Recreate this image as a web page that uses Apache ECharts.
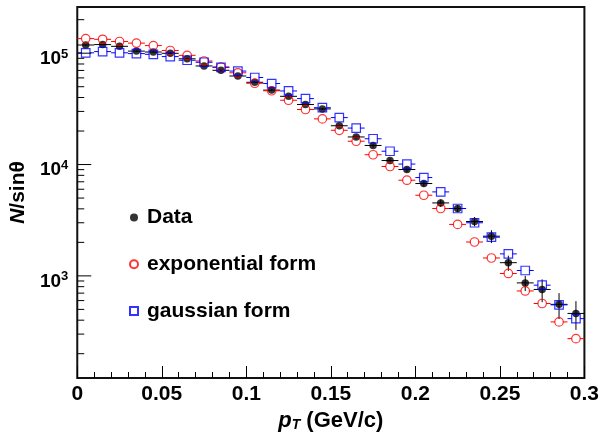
<!DOCTYPE html>
<html>
<head>
<meta charset="utf-8">
<script src="https://cdn.jsdelivr.net/npm/echarts@6/dist/echarts.min.js"></script>
<style>
  html, body { margin: 0; padding: 0; background: #fff; }
  #chart { width: 602px; height: 437px; }
</style>
</head>
<body>
<div id="chart"></div>
<script>
// pT bin centres (GeV/c), bin width 0.01
const binCenters = [0.005, 0.015, 0.025, 0.035, 0.045, 0.055, 0.065, 0.075, 0.085, 0.095,
                    0.105, 0.115, 0.125, 0.135, 0.145, 0.155, 0.165, 0.175, 0.185, 0.195,
                    0.205, 0.215, 0.225, 0.235, 0.245, 0.255, 0.265, 0.275, 0.285, 0.295];
const binHalfWidth = 0.005;

// measured N/sin(theta) with statistical errors
const dataValues = [118500, 119500, 115300, 104400, 102500, 99800, 89100, 76800, 70200, 62400,
                    54800, 46600, 41000, 34600, 31600, 22300, 17690, 14840, 10860, 9020,
                    6750, 4520, 4030, 3080, 2272, 1314, 865, 755, 555, 460];
const dataErrors = [1500, 1500, 1450, 1400, 1350, 1300, 1200, 1100, 1000, 950,
                    900, 850, 800, 700, 650, 560, 540, 520, 490, 450,
                    400, 340, 295, 290, 300, 205, 135, 175, 145, 133];

// model expectations
const expValues = [135200, 133300, 127400, 123200, 117000, 105700, 95700, 85100, 75200, 66700,
                   53700, 46000, 37800, 31200, 25700, 20300, 16190, 12250, 9600, 7230,
                   5300, 4030, 2900, 2015, 1448, 1051, 732, 565, 386, 273];
const gausValues = [100800, 103400, 100800, 99200, 97700, 93200, 86400, 82900, 74700, 69100,
                    60500, 53400, 45800, 39100, 32400, 26400, 21260, 17040, 13170, 10100,
                    7640, 5680, 4030, 3000, 2225, 1576, 1118, 825, 549, 413];

const seriesNames = ['Data', 'exponential form', 'gaussian form'];

// axis ranges
const xMin = 0, xMax = 0.3, xStep = 0.05;
const yMin = 121, yMax = 260000;

// log-axis tick marks: decades are major, 2..9 are minor
const yTickValues = [];
for (let d = 100; d <= 1e6; d *= 10) {
  for (let m = 1; m <= 9; m++) {
    const v = m * d;
    if (v >= yMin && v <= yMax) yTickValues.push(v);
  }
}

const FONT = '"Liberation Sans", Arial, Helvetica, sans-serif';

function isDecade(v) {
  const e = Math.log10(v);
  return Math.abs(e - Math.round(e)) < 1e-6;
}

// horizontal bin-width bars (and vertical error bars), leaving a gap for hollow markers
function barSeries(name, values, errors, color, gap) {
  return {
    type: 'custom',
    name: name + ' bars',
    silent: true,
    z: 2,
    clip: false,
    data: binCenters.map((x, i) => [x, values[i], errors ? errors[i] : 0]),
    renderItem(params, api) {
      const x = api.value(0), y = api.value(1), e = api.value(2);
      const c = api.coord([x, y]);
      const l = api.coord([x - binHalfWidth, y]);
      const r = api.coord([x + binHalfWidth, y]);
      const st = { stroke: color, lineWidth: 1 };
      const children = [
        { type: 'line', shape: { x1: l[0], y1: c[1], x2: c[0] - gap, y2: c[1] }, style: st },
        { type: 'line', shape: { x1: c[0] + gap, y1: c[1], x2: r[0], y2: c[1] }, style: st }
      ];
      if (e > 0) {
        const t = api.coord([x, y + e]);
        const b = api.coord([x, y - e]);
        if (c[1] - gap > t[1]) children.push({ type: 'line', shape: { x1: c[0], y1: t[1], x2: c[0], y2: c[1] - gap }, style: st });
        if (b[1] > c[1] + gap) children.push({ type: 'line', shape: { x1: c[0], y1: c[1] + gap, x2: c[0], y2: b[1] }, style: st });
      }
      return { type: 'group', children };
    }
  };
}

const chart = echarts.init(document.getElementById('chart'), null, { renderer: 'canvas' });

chart.setOption({
  animation: false,
  backgroundColor: '#fff',
  grid: {
    left: 77, right: 14, top: 7, bottom: 59,
    show: true, borderColor: '#111', borderWidth: 2, backgroundColor: 'transparent'
  },
  legend: {
    data: seriesNames,
    orient: 'vertical',
    left: 129, top: 207,
    padding: 0,
    itemGap: 25.7,
    itemWidth: 8, itemHeight: 8,
    selectedMode: false,
    textStyle: {
      fontFamily: FONT, fontWeight: 'bold', fontSize: 21, color: '#000',
      lineHeight: 21, padding: [0, 0, 0, 4]
    }
  },
  xAxis: {
    type: 'value',
    min: xMin, max: xMax, interval: xStep,
    name: '{p|p}{t|T} (GeV/c)',
    nameLocation: 'middle',
    nameGap: 32,
    nameTextStyle: {
      fontFamily: FONT, fontWeight: 'bold', fontSize: 22, color: '#000', lineHeight: 22,
      rich: {
        p: { fontFamily: FONT, fontWeight: 'bold', fontStyle: 'italic', fontSize: 22, color: '#000', lineHeight: 22 },
        t: { fontFamily: FONT, fontWeight: 'bold', fontStyle: 'italic', fontSize: 14, color: '#000', lineHeight: 6, verticalAlign: 'bottom' }
      }
    },
    axisLine: { show: false },
    axisTick: { show: true, inside: true, length: 12, lineStyle: { color: '#000', width: 1 } },
    minorTick: { show: true, splitNumber: 5, length: 6, lineStyle: { color: '#000', width: 1 } },
    splitLine: { show: false },
    minorSplitLine: { show: false },
    axisLabel: {
      margin: 6,
      fontFamily: FONT, fontWeight: 'bold', fontSize: 21, color: '#000',
      formatter: v => String(+v.toFixed(3))
    }
  },
  yAxis: {
    type: 'log',
    logBase: 10,
    min: yMin, max: yMax,
    name: '{i|N}/sinθ',
    nameLocation: 'middle',
    nameGap: 46,
    nameTextStyle: {
      fontFamily: FONT, fontWeight: 'bold', fontSize: 21, color: '#000',
      rich: {
        i: { fontFamily: FONT, fontWeight: 'bold', fontStyle: 'italic', fontSize: 21, color: '#000' }
      }
    },
    axisLine: { show: false },
    axisTick: { show: false },
    splitLine: { show: false },
    axisLabel: {
      margin: 9,
      padding: [11, 0, 0, 0],
      showMinLabel: false, showMaxLabel: false,
      formatter: v => isDecade(v) ? '{b|10}{s|' + Math.round(Math.log10(v)) + '}' : '',
      rich: {
        b: { fontFamily: FONT, fontWeight: 'bold', fontSize: 19, color: '#000', lineHeight: 22 },
        s: { fontFamily: FONT, fontWeight: 'bold', fontSize: 13, color: '#000', lineHeight: 10, verticalAlign: 'top' }
      }
    }
  },
  series: [
    // inner tick marks of the logarithmic axis
    {
      type: 'custom',
      name: 'y ticks',
      silent: true,
      z: 5,
      clip: false,
      data: yTickValues.map(v => [xMin, v]),
      renderItem(params, api) {
        const v = api.value(1);
        const p = api.coord([api.value(0), v]);
        const len = isDecade(v) ? 14 : 7;
        return { type: 'line', shape: { x1: p[0], y1: p[1], x2: p[0] + len, y2: p[1] }, style: { stroke: '#000', lineWidth: 1 } };
      }
    },
    barSeries('Data', dataValues, dataErrors, '#000', 0),
    barSeries('exponential form', expValues, null, '#ff0000', 4),
    barSeries('gaussian form', gausValues, null, '#0000ff', 4),
    {
      type: 'scatter', name: 'Data', z: 3,
      symbol: 'circle', symbolSize: 7.5,
      itemStyle: { color: '#000' },
      data: binCenters.map((x, i) => [x, dataValues[i]])
    },
    {
      type: 'scatter', name: 'exponential form', z: 3,
      symbol: 'circle', symbolSize: 8.5,
      itemStyle: { color: 'rgba(255,255,255,0)', borderColor: '#ff0000', borderWidth: 1.2 },
      data: binCenters.map((x, i) => [x, expValues[i]])
    },
    {
      type: 'scatter', name: 'gaussian form', z: 3,
      symbol: 'rect', symbolSize: 8.5,
      itemStyle: { color: 'rgba(255,255,255,0)', borderColor: '#0000ff', borderWidth: 1.2 },
      data: binCenters.map((x, i) => [x, gausValues[i]])
    }
  ]
});
</script>
</body>
</html>
